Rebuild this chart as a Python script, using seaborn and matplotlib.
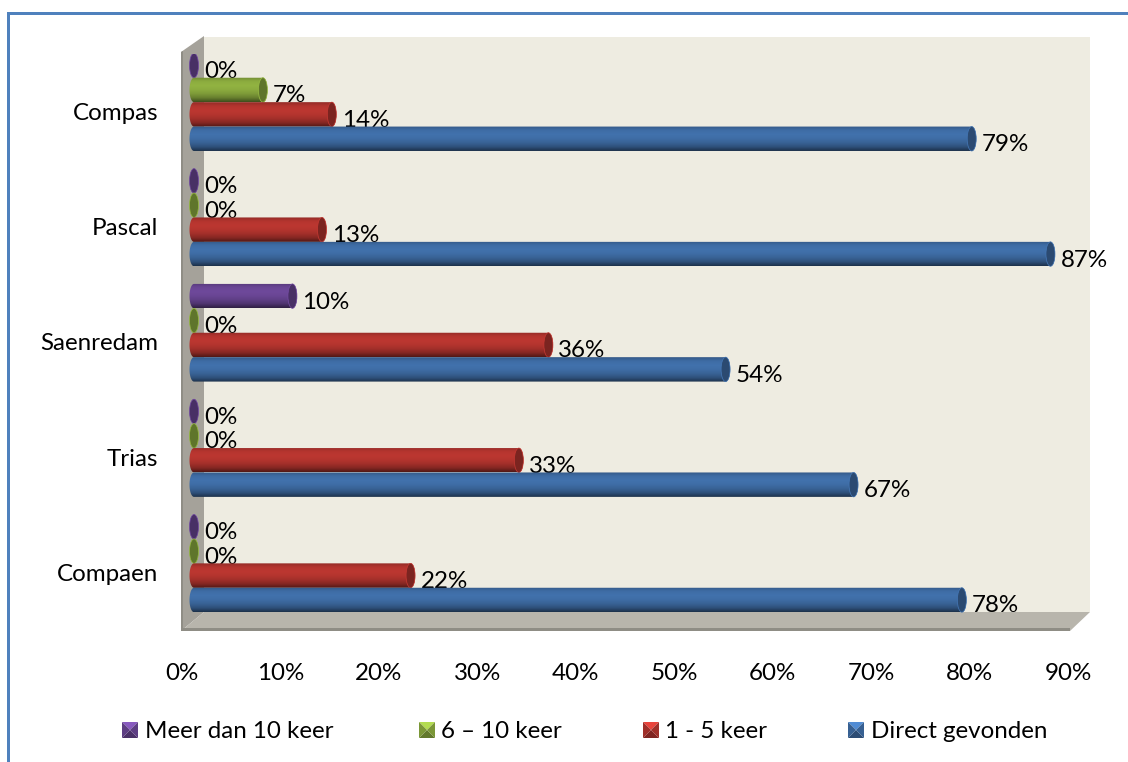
import numpy as np
import pandas as pd
import matplotlib
matplotlib.use("Agg")
import matplotlib.pyplot as plt
import seaborn as sns
from matplotlib.colors import to_rgb
from matplotlib.patches import Ellipse, Polygon, Rectangle
from matplotlib.path import Path
from matplotlib.transforms import Affine2D

# chart values
schools = ["Compas", "Pascal", "Saenredam", "Trias", "Compaen"]
series = ["Meer dan 10 keer", "6 – 10 keer", "1 - 5 keer", "Direct gevonden"]
meer_dan_10 = [0, 0, 10, 0, 0]
zes_tot_10 = [7, 0, 0, 0, 0]
een_tot_5 = [14, 13, 36, 33, 22]
direct = [79, 87, 54, 67, 78]
x_ticks = [0, 10, 20, 30, 40, 50, 60, 70, 80, 90]

colors = ["#6A4695", "#8CAC3F", "#B5352F", "#3F6DA6"]

W, H = 1128, 762
sns.set_theme(style="white")
plt.rcParams["font.family"] = ["Lato", "DejaVu Sans"]
FS = 17.4

df = pd.DataFrame({
    "school": schools * 4,
    "serie": np.repeat(series, 5),
    "pct": meer_dan_10 + zes_tot_10 + een_tot_5 + direct,
})

fig = plt.figure(figsize=(W / 100, H / 100), dpi=100)
fig.patch.set_facecolor("white")


def fx(x):
    return x / W


def fy(y):
    return 1 - y / H


def fig_poly(points, color, z=0):
    pts = [(fx(a), fy(b)) for a, b in points]
    fig.add_artist(Polygon(pts, closed=True, facecolor=color, edgecolor="none",
                           transform=fig.transFigure, zorder=z))


# frame of the slide (only top and left are in view)
fig.add_artist(Rectangle((fx(7), fy(15)), fx(W - 7), 3 / H, facecolor="#4F81BD",
                         edgecolor="none", transform=fig.transFigure, zorder=0))
fig.add_artist(Rectangle((fx(7), 0), 3 / W, fy(15), facecolor="#4F81BD",
                         edgecolor="none", transform=fig.transFigure, zorder=0))

# 3D box behind the bars
fig_poly([(204, 37), (1090, 37), (1090, 612), (204, 612)], "#EEECE1")
fig_poly([(181, 52), (204, 36), (204, 612), (181, 631)], "#A5A29A")
fig_poly([(181, 631), (204, 612), (1090, 612), (1070, 631)], "#B8B5AC")
fig_poly([(181, 628), (1070, 628), (1070, 631), (181, 631)], "#8F8D85")
fig_poly([(181, 52), (183, 51), (183, 631), (181, 631)], "#8F8D85")

ax = fig.add_axes([fx(182), fy(630), (1068 - 182) / W, (630 - 53.5) / H])
ax.patch.set_alpha(0)

sns.barplot(data=df, y="school", x="pct", hue="serie", order=schools,
            hue_order=series, palette=colors, width=0.847, gap=0,
            saturation=1, legend=False, ax=ax)
ax.set_xlabel("")
ax.set_ylabel("")
ax.set_xticks(x_ticks)
ax.set_xticklabels([f"{t}%" for t in x_ticks], fontsize=FS, color="black")
ax.tick_params(axis="x", length=0, pad=24)
ax.tick_params(axis="y", length=0, pad=17, labelsize=FS, labelcolor="black")
sns.despine(ax=ax, left=True, bottom=True)

# bars sit inside the box: shifted right and up from the front plane
shift = ax.transData + Affine2D().translate(10.5, 9)
px_x = 886 / 90  # pixels per percent
cap = 4.5 / px_x
nudge = 1.5 / px_x  # left end of the bars starts a bit further in


def cylinder_img(rgb):
    # vertical shading of a cylinder, light band above the middle
    stops = np.array([0.82, 1.0, 1.04, 1.0, 0.9, 0.74, 0.45])
    pos = np.linspace(0, 1, 7)
    t = np.linspace(0, 1, 64)
    f = np.interp(t, pos, stops)
    return np.clip(np.outer(f, rgb)[:, None, :], 0, 1)


z = 3
for container, color in zip(ax.containers, colors):
    rgb = np.array(to_rgb(color))
    for bar in container:
        v = bar.get_width()
        y0, h = bar.get_y(), bar.get_height()
        yc = y0 + h / 2
        bar.set_visible(False)

        # pill outline: round on both ends
        a = np.linspace(np.pi / 2, 3 * np.pi / 2, 40)
        left = np.c_[nudge + cap * np.cos(a), yc + h / 2 * np.sin(a)]
        right = np.c_[v + nudge - cap * np.cos(a), yc - h / 2 * np.sin(a)]
        outline = np.vstack([left, right, left[:1]])

        img = ax.imshow(cylinder_img(rgb), extent=[-cap, v + cap + nudge, y0 + h, y0],
                        origin="upper", aspect="auto", transform=shift, zorder=z)
        img.set_clip_path(Path(outline), transform=shift)

        # darker end of the cylinder
        ax.add_patch(Ellipse((v + nudge, yc), 2 * cap, h, facecolor=rgb * 0.68,
                             edgecolor=np.clip(rgb * 1.1, 0, 1), linewidth=0.5,
                             transform=shift, zorder=z + 0.1))

        # label goes under the next bar down, like in the original
        ax.annotate(f"{v:.0f}%", xy=(v, yc), xytext=(22, 3),
                    textcoords="offset pixels", fontsize=FS, color="black",
                    ha="left", va="center", annotation_clip=False, zorder=z + 0.5)
    z += 1

ax.set_xlim(0, 90)
ax.set_ylim(4.5, -0.5)

# legend with bevelled squares
legend_x = [122, 419, 643, 848]
text_x = [145, 441, 665, 871]
for name, color, sx, tx in zip(series, colors, legend_x, text_x):
    rgb = np.array(to_rgb(color))
    s0, s1 = 722, 738
    e0, e1 = sx, sx + 16
    mx, my = sx + 8, 730
    fig_poly([(e0, s0), (e1, s0), (mx, my)], np.clip(rgb * 1.28, 0, 1), 5)
    fig_poly([(e0, s1), (e1, s1), (mx, my)], rgb * 0.7, 5)
    fig_poly([(e0, s0), (e0, s1), (mx, my)], rgb * 0.88, 5)
    fig_poly([(e1, s0), (e1, s1), (mx, my)], rgb * 0.88, 5)
    fig.text(fx(tx), fy(732), name, fontsize=FS, color="black", ha="left", va="center")

fig.savefig("out.png", dpi=100)
